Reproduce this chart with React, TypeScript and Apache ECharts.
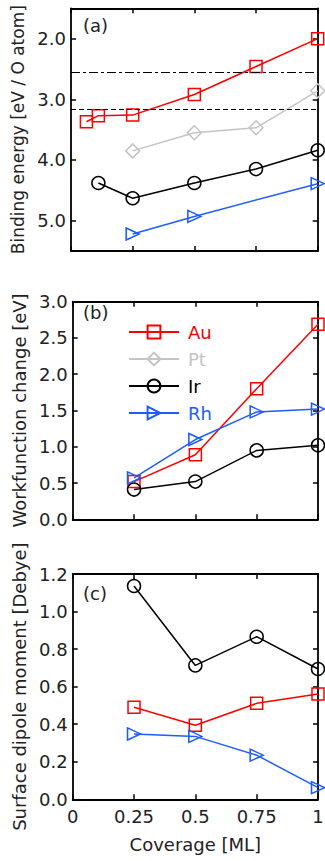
import React, { useEffect, useRef } from "react";
import * as echarts from "echarts";

// Panel (a): binding energy [eV / O atom]
const auBindX = [0.0625, 0.111, 0.25, 0.5, 0.75, 1];
const auBind = [3.37, 3.27, 3.26, 2.92, 2.46, 2.0];
const ptBindX = [0.25, 0.5, 0.75, 1];
const ptBind = [3.85, 3.55, 3.47, 2.86];
const irBindX = [0.111, 0.25, 0.5, 0.75, 1];
const irBind = [4.38, 4.63, 4.38, 4.15, 3.84];
const rhBindX = [0.25, 0.5, 1];
const rhBind = [5.22, 4.93, 4.39];
const refDashDot = 2.56;
const refDashed = 3.16;
const bindTicks = [2, 3, 4, 5];

// Panels (b), (c)
const covX = [0.25, 0.5, 0.75, 1];
const auWf = [0.52, 0.89, 1.8, 2.69];
const irWf = [0.41, 0.52, 0.95, 1.02];
const rhWf = [0.57, 1.1, 1.48, 1.52];
const auDip = [0.49, 0.394, 0.511, 0.561];
const irDip = [1.136, 0.713, 0.866, 0.694];
const rhDip = [0.348, 0.335, 0.235, 0.062];

const xTickLabels = ["0", "0.25", "0.5", "0.75", "1"];
const names = ["Au", "Pt", "Ir", "Rh"];

const FONT = "DejaVu Sans";
const FS = 18;
const TXT = "#222";
const colors: Record<string, string> = { Au: "#ff0000", Pt: "#c4c4c4", Ir: "#000000", Rh: "#1f5cff" };
const symbols: Record<string, any> = {
  Au: { symbol: "rect", symbolSize: 12 },
  Pt: { symbol: "diamond", symbolSize: 14 },
  Ir: { symbol: "circle", symbolSize: 13 },
  Rh: { symbol: "path://M0,0L1,0.5L0,1Z", symbolSize: [13, 12] },
};

const zip = (xs: number[], ys: number[]) => xs.map((x, i) => [x, ys[i]]);

function mkSeries(name: string, xs: number[], ys: number[], idx: number, extra: any = {}) {
  const c = colors[name];
  return {
    type: "line",
    name,
    xAxisIndex: idx * 2,
    yAxisIndex: idx * 2,
    data: zip(xs, ys),
    ...symbols[name],
    clip: false,
    lineStyle: { color: c, width: 1.5 },
    itemStyle: { color: "transparent", borderColor: c, borderWidth: 1.5 },
    emphasis: { disabled: true },
    z: 3,
    ...extra,
  };
}

const grids = [
  { left: 71, top: 8.3, width: 246.7, height: 242.7, outerBoundsMode: "none", containLabel: false },
  { left: 72.7, top: 301.7, width: 245.3, height: 217.6, outerBoundsMode: "none", containLabel: false },
  { left: 72.7, top: 574, width: 245.3, height: 225.3, outerBoundsMode: "none", containLabel: false },
];

const axisLine = { show: true, onZero: false, lineStyle: { color: "#000", width: 1.8 } };
const tick = { show: true, inside: true, length: 5, lineStyle: { color: "#000", width: 1.5 } };

function xAxes() {
  const out: any[] = [];
  grids.forEach((_, i) => {
    out.push({
      type: "value",
      gridIndex: i,
      position: "bottom",
      min: 0,
      max: 1,
      interval: 0.25,
      axisLine,
      axisTick: tick,
      splitLine: { show: false },
      axisLabel: {
        show: i === 2,
        margin: 8,
        color: TXT,
        fontFamily: FONT,
        fontSize: FS,
        formatter: (v: number) => xTickLabels[Math.round(v / 0.25)],
      },
      name: i === 2 ? "Coverage [ML]" : "",
      nameLocation: "middle",
      nameGap: 36,
      nameTextStyle: { color: TXT, fontFamily: FONT, fontSize: FS },
    });
    out.push({
      type: "value",
      gridIndex: i,
      position: "top",
      min: 0,
      max: 1,
      interval: 0.25,
      axisLine,
      axisTick: tick,
      splitLine: { show: false },
      axisLabel: { show: false },
    });
  });
  return out;
}

const yDefs = [
  { min: 1.5, max: 5.5, inverse: true, custom: bindTicks, name: "Binding energy [eV / O atom]", nameSize: 17 },
  { min: 0, max: 3, interval: 0.5, name: "Workfunction change [eV]", nameSize: FS },
  { min: 0, max: 1.2, interval: 0.2, name: "Surface dipole moment [Debye]", nameSize: FS },
];

function yAxes() {
  const out: any[] = [];
  yDefs.forEach((d, i) => {
    const base: any = {
      type: "value",
      gridIndex: i,
      min: d.min,
      max: d.max,
      inverse: !!d.inverse,
      splitLine: { show: false },
      axisLine,
    };
    if (d.interval) base.interval = d.interval;
    out.push({
      ...base,
      position: "left",
      axisTick: d.custom ? { ...tick, customValues: d.custom } : tick,
      axisLabel: {
        show: true,
        margin: 5,
        color: TXT,
        fontFamily: FONT,
        fontSize: FS,
        formatter: (v: number) => v.toFixed(1),
        ...(d.custom ? { customValues: d.custom } : {}),
      },
      name: d.name,
      nameLocation: "middle",
      nameGap: 44,
      nameTextStyle: { color: TXT, fontFamily: FONT, fontSize: d.nameSize },
    });
    out.push({
      ...base,
      position: "right",
      axisTick: d.custom ? { ...tick, customValues: d.custom } : tick,
      axisLabel: { show: false },
    });
  });
  return out;
}

export default function App() {
  const ref = useRef<HTMLDivElement>(null);
  useEffect(() => {
    if (!ref.current) return;
    const chart = echarts.init(ref.current, null, { renderer: "svg" });
    const option: any = {
      animation: false,
      backgroundColor: "#fff",
      textStyle: { fontFamily: FONT },
      grid: grids,
      xAxis: xAxes(),
      yAxis: yAxes(),
      legend: {
        show: true,
        orient: "vertical",
        left: 123,
        top: 318,
        itemWidth: 50,
        itemHeight: 16,
        itemGap: 9,
        selectedMode: false,
        textStyle: { fontFamily: FONT, fontSize: FS, padding: [0, 0, 0, 4] },
        data: names.map((n) => ({ name: n, textStyle: { color: colors[n] } })),
      },
      graphic: [
        { type: "text", left: 83, top: 16, style: { text: "(a)", fontFamily: FONT, fontSize: FS, fill: TXT } },
        { type: "text", left: 83, top: 303, style: { text: "(b)", fontFamily: FONT, fontSize: FS, fill: TXT } },
        { type: "text", left: 83, top: 584, style: { text: "(c)", fontFamily: FONT, fontSize: FS, fill: TXT } },
      ],
      series: [
        mkSeries("Au", auBindX, auBind, 0, {
          markLine: {
            silent: true,
            symbol: "none",
            label: { show: false },
            data: [
              { yAxis: refDashDot, lineStyle: { color: "#000", width: 1.2, type: [9, 3, 3, 3] } },
              { yAxis: refDashed, lineStyle: { color: "#000", width: 1.2, type: [5, 3] } },
            ],
          },
        }),
        mkSeries("Pt", ptBindX, ptBind, 0),
        mkSeries("Ir", irBindX, irBind, 0),
        mkSeries("Rh", rhBindX, rhBind, 0),
        mkSeries("Au", covX, auWf, 1),
        mkSeries("Ir", covX, irWf, 1),
        mkSeries("Rh", covX, rhWf, 1),
        mkSeries("Au", covX, auDip, 2),
        mkSeries("Ir", covX, irDip, 2),
        mkSeries("Rh", covX, rhDip, 2),
      ],
    };
    chart.setOption(option);
    return () => chart.dispose();
  }, []);
  return (
    <div
      ref={ref}
      style={{ position: "absolute", left: 0, top: 0, width: 325, height: 861 }}
    />
  );
}
